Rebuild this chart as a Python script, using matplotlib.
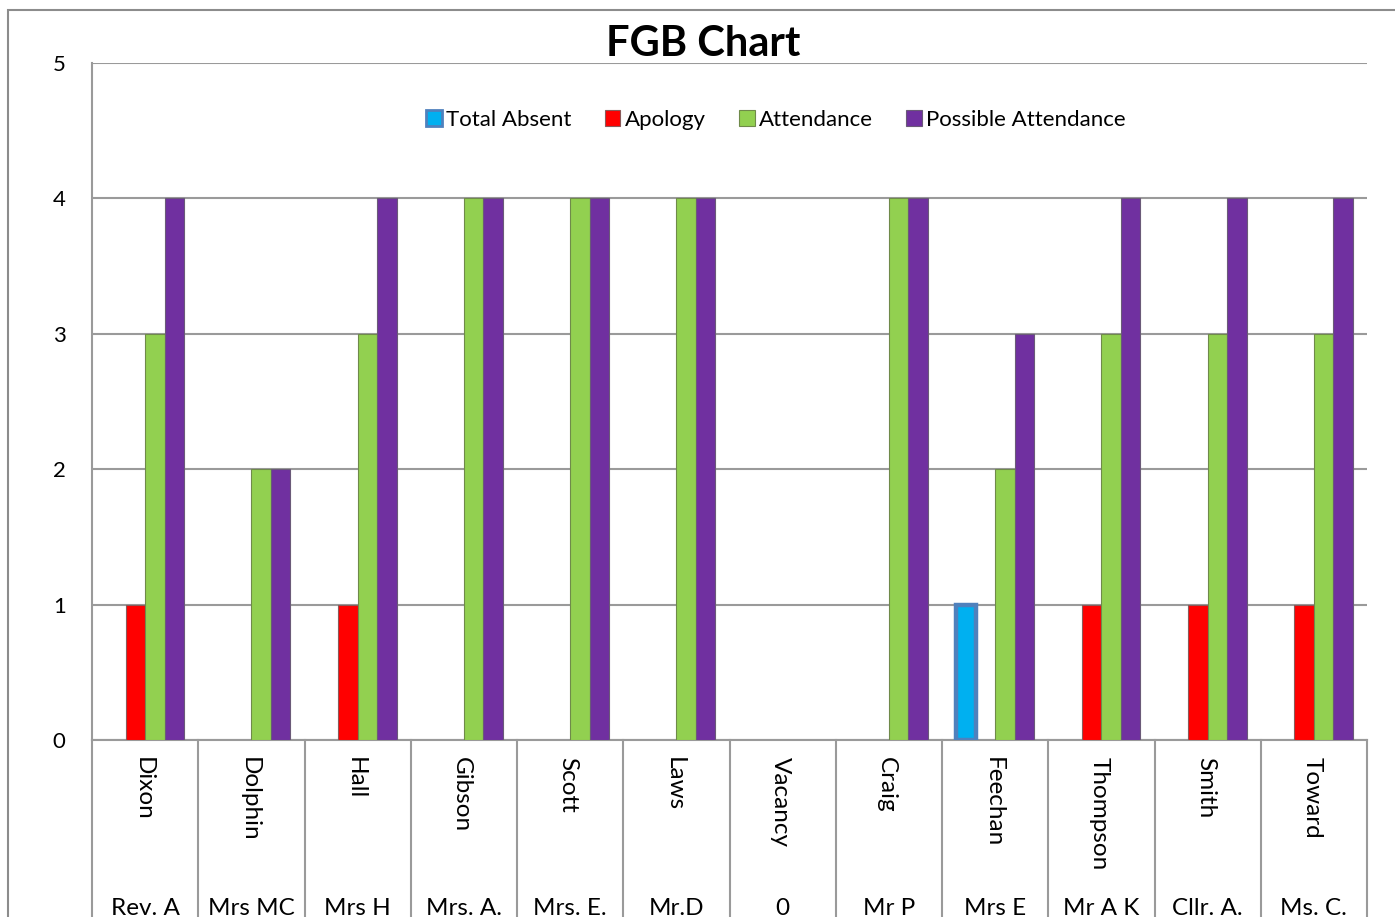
import matplotlib.pyplot as plt
import matplotlib.transforms as mtransforms
from matplotlib.patches import Rectangle
import numpy as np

plt.rcParams['font.family'] = ['Lato', 'DejaVu Sans']

# chart data
surnames = ['Dixon', 'Dolphin', 'Hall', 'Gibson', 'Scott', 'Laws', 'Vacancy',
            'Craig', 'Feechan', 'Thompson', 'Smith', 'Toward']
titles = ['Rev. A', 'Mrs MC', 'Mrs H', 'Mrs. A.', 'Mrs. E.', 'Mr.D', '0',
          'Mr P', 'Mrs E', 'Mr A K', 'Cllr. A.', 'Ms. C.']
total_absent = [0, 0, 0, 0, 0, 0, 0, 0, 1, 0, 0, 0]
apology = [1, 0, 1, 0, 0, 0, 0, 0, 0, 1, 1, 1]
attendance = [3, 2, 3, 4, 4, 4, 0, 4, 2, 3, 3, 3]
possible = [4, 2, 4, 4, 4, 4, 0, 4, 3, 4, 4, 4]

W, H = 1395, 917
fig = plt.figure(figsize=(W / 100, H / 100), dpi=100)

# outer chart border (runs off the right and bottom of the picture)
fig.patches.append(Rectangle((8 / W, -0.2), 1.2, 1.2 - 10 / H,
                             transform=fig.transFigure, fill=False,
                             edgecolor='#8c8c8c', linewidth=1.5))

ax = fig.add_axes([92 / W, 1 - 740 / H, (1367 - 92) / W, (740 - 63) / H])
x = np.arange(len(surnames))
w = 0.183
grid_c = '#9a9a9a'


def edges(vals, lw):
    # no outline on empty bars
    return [lw if v else 0 for v in vals]


ax.bar(x - 1.5 * w, total_absent, w, color='#00b0f0', edgecolor='#4f81bd',
       linewidth=edges(total_absent, 3.2), label='Total Absent', zorder=3)
ax.bar(x - 0.5 * w, apology, w, color='#ff0000', edgecolor='#8a5a5a',
       linewidth=edges(apology, 0.8), label='Apology', zorder=3)
ax.bar(x + 0.5 * w, attendance, w, color='#92d050', edgecolor='#6f8a4a',
       linewidth=edges(attendance, 0.8), label='Attendance', zorder=3)
ax.bar(x + 1.5 * w, possible, w, color='#7030a0', edgecolor='#6a5a78',
       linewidth=edges(possible, 0.8), label='Possible Attendance', zorder=3)

ax.set_xlim(-0.5, len(surnames) - 0.5)
ax.set_ylim(0, 5)
ax.set_yticks(range(6))
ax.yaxis.grid(True, color=grid_c, linewidth=1.5, zorder=0)
ax.set_axisbelow(True)
ax.tick_params(axis='y', length=0, pad=19, labelsize=16)
ax.set_xticks([])
for s in ['top', 'right']:
    ax.spines[s].set_visible(False)
for s in ['left', 'bottom']:
    ax.spines[s].set_color(grid_c)
    ax.spines[s].set_linewidth(1.5)

# two-level category table under the axis
trans = mtransforms.blended_transform_factory(ax.transData, ax.transAxes)
for b in np.arange(len(surnames) + 1) - 0.5:
    ax.plot([b, b], [0, -0.4], transform=trans, color=grid_c,
            linewidth=1.5, clip_on=False)
for i in x:
    ax.text(i - 0.02, -0.025, surnames[i], transform=trans, rotation=270,
            ha='center', va='top', fontsize=17.5)
    ax.text(i, -0.233, titles[i], transform=trans, ha='center', va='top',
            fontsize=17.5)

fig.text(703 / W, 1 - 44 / H, 'FGB Chart', ha='center', va='center',
         fontsize=30, fontweight='bold')

leg = fig.legend(loc='center', bbox_to_anchor=(776 / W, 1 - 120 / H), ncol=4,
                 frameon=False, fontsize=16, handlelength=0.7,
                 handleheight=0.7, handletextpad=0.2, columnspacing=1.5)
handle_edges = [('#4f81bd', 2.0), ('#8a5a5a', 0.8), ('#6f8a4a', 0.8),
                ('#6a5a78', 0.8)]
for h, (ec, lw) in zip(leg.legend_handles, handle_edges):
    h.set_edgecolor(ec)
    h.set_linewidth(lw)

fig.savefig('out.png', dpi=100)
